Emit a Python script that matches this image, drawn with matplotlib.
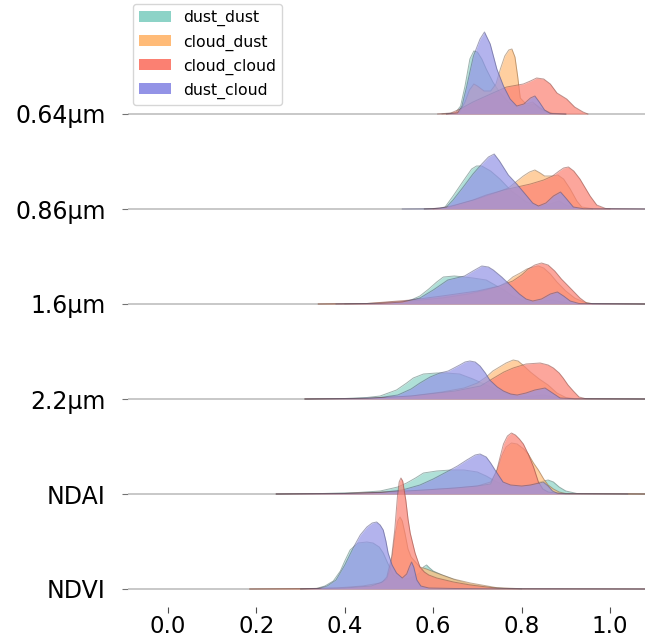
import numpy as np
import matplotlib
matplotlib.use('Agg')
import matplotlib.pyplot as plt
from matplotlib.patches import Patch
from matplotlib.colors import to_rgb

rows = ['0.64µm', '0.86µm', '1.6µm', '2.2µm', 'NDAI', 'NDVI']
series = ['dust_dust', 'cloud_dust', 'cloud_cloud', 'dust_cloud']
colors = ['#8dd3c7', '#ffbb78', '#fb8072', '#9393e6']
xticks = [0.0, 0.2, 0.4, 0.6, 0.8, 1.0]
xtick_labels = ['0.0', '0.2', '0.4', '0.6', '0.8', '1.0']

# density curves: (x, relative density)
c064_dust_dust = [(0.62, 0), (0.65, 1), (0.662, 8), (0.672, 28), (0.683, 55), (0.692, 63), (0.70, 62),
                  (0.71, 55), (0.72, 45), (0.735, 32), (0.75, 22), (0.77, 12), (0.79, 7), (0.81, 8),
                  (0.83, 10), (0.85, 4), (0.87, 0.5), (0.90, 0)]
c064_cloud_dust = [(0.63, 0), (0.66, 2), (0.672, 12), (0.682, 24), (0.692, 30), (0.70, 28), (0.715, 23),
                   (0.73, 23), (0.742, 30), (0.752, 45), (0.762, 58), (0.771, 64), (0.778, 65), (0.785, 57),
                   (0.791, 38), (0.797, 16), (0.81, 10), (0.825, 12), (0.84, 6), (0.86, 1), (0.90, 0)]
c064_cloud_cloud = [(0.61, 0), (0.64, 1), (0.661, 5), (0.69, 12), (0.73, 20), (0.766, 27), (0.804, 30),
                    (0.82, 33), (0.834, 36), (0.85, 35), (0.865, 30), (0.88, 21), (0.902, 15), (0.92, 7),
                    (0.939, 2), (0.95, 0)]
c064_dust_cloud = [(0.63, 0), (0.655, 1), (0.665, 8), (0.676, 28), (0.691, 58), (0.706, 75), (0.716, 82),
                   (0.729, 70), (0.744, 45), (0.759, 28), (0.774, 15), (0.789, 8), (0.805, 10), (0.82, 16),
                   (0.83, 18), (0.84, 12), (0.852, 4), (0.865, 0.5), (0.90, 0)]

c086_dust_dust = [(0.58, 0), (0.615, 0.5), (0.627, 2), (0.645, 13), (0.668, 28), (0.687, 40), (0.698, 43),
                  (0.71, 43), (0.73, 38), (0.751, 30), (0.777, 18), (0.811, 7), (0.84, 3), (0.865, 5),
                  (0.885, 8), (0.90, 4), (0.92, 1), (0.96, 0)]
c086_cloud_dust = [(0.60, 0), (0.63, 1), (0.66, 5), (0.70, 10), (0.74, 16), (0.77, 21), (0.787, 27),
                   (0.804, 33), (0.818, 37), (0.83, 39), (0.842, 36), (0.852, 33), (0.87, 33), (0.882, 34),
                   (0.895, 30), (0.91, 20), (0.925, 8), (0.936, 2), (0.96, 0.3), (1.0, 0)]
c086_cloud_cloud = [(0.58, 0), (0.62, 1), (0.65, 4), (0.69, 9), (0.72, 14), (0.76, 19), (0.79, 22),
                    (0.82, 25), (0.85, 29), (0.87, 33), (0.885, 38), (0.895, 41), (0.906, 42), (0.918, 38),
                    (0.932, 30), (0.955, 13), (0.97, 4), (0.99, 0.5), (1.08, 0)]
c086_dust_cloud = [(0.53, 0), (0.60, 0.3), (0.63, 2), (0.645, 9), (0.668, 22), (0.69, 35), (0.71, 45),
                   (0.725, 52), (0.738, 55), (0.75, 48), (0.77, 34), (0.789, 25), (0.81, 14), (0.825, 6),
                   (0.838, 3), (0.855, 6), (0.872, 13), (0.888, 17), (0.90, 11), (0.917, 2), (0.94, 0.3),
                   (1.08, 0)]

c16_dust_dust = [(0.40, 0), (0.48, 0.5), (0.525, 1.5), (0.55, 4), (0.57, 8), (0.59, 15), (0.608, 22),
                 (0.623, 27), (0.648, 28), (0.67, 27), (0.69, 26), (0.72, 24), (0.74, 19), (0.76, 14),
                 (0.78, 8), (0.80, 4), (0.82, 2), (0.85, 3), (0.87, 4), (0.89, 2), (0.92, 0.3), (1.08, 0)]
c16_cloud_dust = [(0.34, 0), (0.45, 0.5), (0.55, 3), (0.62, 6), (0.68, 10), (0.72, 14), (0.75, 18),
                  (0.767, 22), (0.78, 27), (0.797, 31), (0.812, 35), (0.827, 37), (0.838, 38), (0.85, 36),
                  (0.865, 30), (0.88, 22), (0.90, 13), (0.92, 6), (0.94, 2), (0.96, 0.3), (1.08, 0)]
c16_cloud_cloud = [(0.34, 0), (0.45, 0.5), (0.55, 4), (0.62, 8), (0.70, 13), (0.75, 18), (0.78, 23),
                   (0.80, 29), (0.815, 35), (0.83, 39), (0.845, 41), (0.86, 39), (0.875, 33), (0.89, 25),
                   (0.91, 16), (0.932, 6), (0.947, 1), (0.96, 0.3), (1.08, 0)]
c16_dust_cloud = [(0.38, 0), (0.48, 0.5), (0.53, 2), (0.57, 6), (0.60, 14), (0.633, 24), (0.671, 28),
                  (0.69, 33), (0.71, 38), (0.725, 37), (0.736, 34), (0.755, 27), (0.774, 19), (0.795, 10),
                  (0.81, 5), (0.825, 3), (0.845, 5), (0.865, 10), (0.881, 12), (0.895, 8), (0.91, 3),
                  (0.93, 0.5), (1.08, 0)]

c22_dust_dust = [(0.31, 0), (0.40, 0.5), (0.45, 1.5), (0.48, 3), (0.517, 9), (0.54, 16), (0.555, 21),
                 (0.578, 25), (0.608, 26), (0.63, 26), (0.66, 25), (0.69, 20), (0.72, 14), (0.75, 8),
                 (0.78, 4), (0.80, 2), (0.83, 3), (0.85, 4), (0.87, 2), (0.90, 0.3), (1.08, 0)]
c22_cloud_dust = [(0.31, 0), (0.45, 0.5), (0.55, 3), (0.62, 7), (0.67, 11), (0.70, 16), (0.72, 22),
                  (0.735, 28), (0.75, 32), (0.765, 36), (0.781, 39), (0.792, 38), (0.803, 34), (0.82, 27),
                  (0.84, 20), (0.86, 14), (0.88, 6), (0.90, 1.5), (0.92, 0.3), (1.08, 0)]
c22_cloud_cloud = [(0.31, 0), (0.45, 0.5), (0.55, 3), (0.65, 8), (0.707, 13), (0.737, 21), (0.76, 27),
                   (0.781, 31), (0.81, 35), (0.842, 36), (0.86, 34), (0.872, 31), (0.885, 26), (0.894, 21),
                   (0.905, 14), (0.917, 8), (0.93, 2), (0.945, 0.3), (1.08, 0)]
c22_dust_cloud = [(0.31, 0), (0.42, 0.5), (0.48, 1.5), (0.52, 4), (0.55, 10), (0.57, 16), (0.593, 22),
                  (0.615, 26), (0.634, 28), (0.66, 34), (0.672, 37), (0.683, 38), (0.695, 37), (0.706, 33),
                  (0.718, 26), (0.728, 19), (0.745, 12), (0.759, 8), (0.775, 5), (0.79, 4), (0.81, 6),
                  (0.83, 9), (0.853, 11), (0.87, 6), (0.887, 1), (0.92, 0.2), (1.08, 0)]

cNDAI_dust_dust = [(0.245, 0), (0.35, 0.5), (0.43, 1.5), (0.48, 3), (0.52, 7), (0.54, 11), (0.56, 16),
                   (0.578, 21), (0.608, 23), (0.64, 24), (0.67, 24), (0.70, 22), (0.72, 18), (0.74, 13),
                   (0.76, 9), (0.78, 7), (0.80, 7), (0.82, 9), (0.84, 12), (0.86, 14), (0.872, 12),
                   (0.885, 7), (0.90, 3), (0.925, 0.5), (1.0, 0.2), (1.08, 0)]
cNDAI_cloud_dust = [(0.245, 0), (0.40, 0.5), (0.50, 2), (0.58, 4), (0.65, 6), (0.70, 8), (0.73, 12),
                    (0.745, 24), (0.755, 38), (0.765, 47), (0.777, 51), (0.79, 50), (0.805, 45), (0.815, 40),
                    (0.827, 31), (0.838, 24), (0.85, 15), (0.86, 9), (0.872, 5), (0.885, 2), (0.90, 0.5),
                    (1.08, 0)]
cNDAI_cloud_cloud = [(0.245, 0), (0.40, 0.5), (0.50, 2), (0.58, 4), (0.65, 6), (0.70, 8), (0.73, 10),
                     (0.744, 24), (0.752, 38), (0.759, 50), (0.768, 58), (0.777, 61), (0.786, 59),
                     (0.795, 55), (0.804, 50), (0.815, 40), (0.827, 27), (0.838, 12), (0.848, 5), (0.86, 2),
                     (0.885, 0.5), (0.90, 0.2), (1.08, 0)]
cNDAI_dust_cloud = [(0.245, 0), (0.40, 0.5), (0.48, 1.5), (0.53, 4), (0.57, 9), (0.60, 15), (0.63, 22),
                    (0.655, 28), (0.676, 34), (0.695, 39), (0.706, 40), (0.72, 37), (0.73, 31), (0.74, 24),
                    (0.758, 12), (0.775, 9), (0.80, 8), (0.82, 9), (0.84, 11), (0.849, 12), (0.86, 8),
                    (0.87, 3), (0.88, 1), (0.90, 0.3), (1.04, 0)]

cNDVI_dust_dust = [(0.30, 0), (0.336, 0.5), (0.355, 3), (0.374, 8), (0.39, 18), (0.40, 28), (0.412, 39),
                   (0.43, 46), (0.45, 47), (0.464, 46), (0.478, 42), (0.487, 36), (0.497, 26), (0.51, 14),
                   (0.525, 10), (0.54, 10), (0.555, 12), (0.57, 16), (0.578, 22), (0.585, 24), (0.592, 21),
                   (0.60, 18), (0.62, 14), (0.65, 9), (0.68, 5), (0.72, 2), (0.76, 0.5), (0.80, 0)]
cNDVI_cloud_dust = [(0.185, 0), (0.30, 0.3), (0.38, 1), (0.44, 3), (0.48, 6), (0.495, 10), (0.502, 19),
                    (0.508, 35), (0.514, 55), (0.52, 68), (0.525, 72), (0.53, 68), (0.536, 56), (0.543, 40),
                    (0.55, 32), (0.56, 27), (0.57, 22), (0.585, 20), (0.608, 16), (0.646, 10), (0.684, 6),
                    (0.744, 1.3), (0.80, 0.3), (1.08, 0)]
cNDVI_cloud_cloud = [(0.185, 0), (0.30, 0.3), (0.40, 1), (0.46, 3), (0.485, 7), (0.495, 12), (0.506, 32),
                     (0.513, 59), (0.519, 92), (0.523, 107), (0.527, 111), (0.531, 108), (0.535, 97),
                     (0.538, 89), (0.543, 70), (0.548, 56), (0.559, 36), (0.57, 22), (0.58, 17), (0.59, 14),
                     (0.608, 11), (0.646, 7), (0.684, 4), (0.744, 0.8), (0.80, 0.2), (1.08, 0)]
cNDVI_dust_cloud = [(0.30, 0), (0.34, 0.5), (0.36, 3), (0.38, 9), (0.40, 24), (0.42, 42), (0.435, 54),
                    (0.45, 62), (0.462, 66), (0.472, 67), (0.48, 64), (0.487, 59), (0.493, 48), (0.498, 36),
                    (0.507, 24), (0.517, 16), (0.53, 11), (0.54, 15), (0.546, 22), (0.551, 27), (0.556, 22),
                    (0.563, 9), (0.572, 3), (0.59, 1), (0.65, 0.5), (0.75, 0.2), (1.08, 0)]

curves = [
    [c064_dust_dust, c064_cloud_dust, c064_cloud_cloud, c064_dust_cloud],
    [c086_dust_dust, c086_cloud_dust, c086_cloud_cloud, c086_dust_cloud],
    [c16_dust_dust, c16_cloud_dust, c16_cloud_cloud, c16_dust_cloud],
    [c22_dust_dust, c22_cloud_dust, c22_cloud_cloud, c22_dust_cloud],
    [cNDAI_dust_dust, cNDAI_cloud_dust, cNDAI_cloud_cloud, cNDAI_dust_cloud],
    [cNDVI_dust_dust, cNDVI_cloud_dust, cNDVI_cloud_cloud, cNDVI_dust_cloud],
]

W, H = 645, 641
fig = plt.figure(figsize=(W / 100, H / 100), dpi=100)
ax_left, ax_bottom = 128, 607
ax = fig.add_axes([ax_left / W, (H - ax_bottom) / H, (W - ax_left) / W, ax_bottom / H])
x0_px, px_per_unit = 168, 442
xmin = (ax_left - x0_px) / px_per_unit
xmax = (W - x0_px) / px_per_unit
ax.set_xlim(xmin, xmax)
spacing = 95
nrows = len(rows)
ax.set_ylim(-(ax_bottom - 589), 589)

offsets = []
for i, row in enumerate(rows):
    off = (nrows - 1 - i) * spacing
    offsets.append(off)
    z = i * 10
    ax.plot([xmin, xmax], [off, off], color='#c4c4c4', lw=1.3, zorder=z, solid_capstyle='butt')
    for j, pts in enumerate(curves[i]):
        arr = np.array(pts, dtype=float)
        xs, ys = arr[:, 0], arr[:, 1]
        ax.fill_between(xs, off, off + ys, color=colors[j], alpha=0.7, lw=0, zorder=z + 1 + j)
        dark = tuple(c * 0.55 for c in to_rgb(colors[j]))
        ax.plot(xs, off + ys, color=dark, lw=0.7, alpha=0.55, zorder=z + 1 + j)

ax.set_yticks(offsets)
ax.set_yticklabels(rows, fontsize=17)
ax.set_xticks(xticks)
ax.set_xticklabels(xtick_labels, fontsize=16.5)
ax.tick_params(axis='y', length=4, width=0.8, color='0.45', pad=12)
ax.tick_params(axis='x', length=4, width=0.8, color='0.3', pad=1.5)
for s in ax.spines.values():
    s.set_visible(False)

handles = [Patch(facecolor=c, edgecolor='none', label=s) for c, s in zip(colors, series)]
fig.legend(handles=handles, loc='upper left', bbox_to_anchor=(133 / W, 1 - 4 / H),
           bbox_transform=fig.transFigure, borderaxespad=0, fontsize=11.3, frameon=True)

fig.savefig('out.png', dpi=100)
